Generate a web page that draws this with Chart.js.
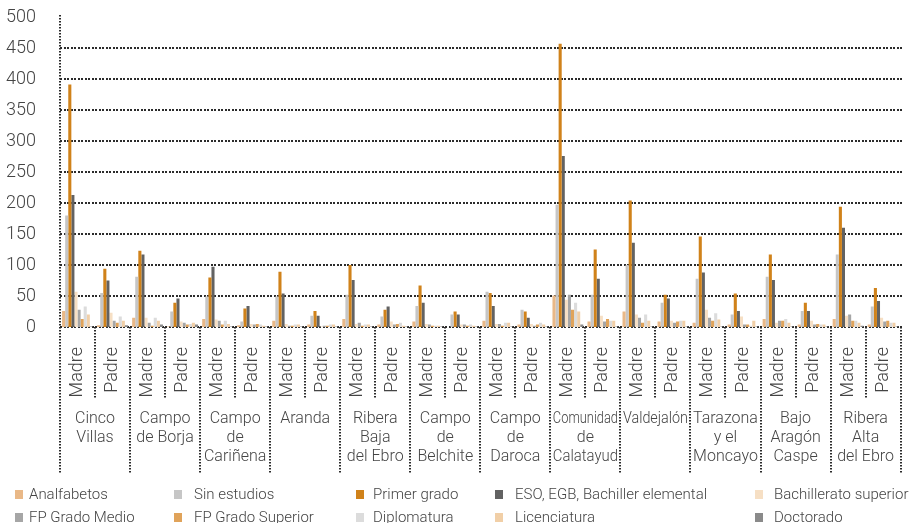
<!DOCTYPE html>
<html>
<head>
<meta charset="utf-8">
<script src="https://cdn.jsdelivr.net/npm/chart.js@4.4.1/dist/chart.umd.min.js"></script>
<style>
  body { margin: 0; background: #fff; }
  #wrap { position: relative; width: 917px; height: 523px; }
</style>
</head>
<body>
<div id="wrap">
  <canvas id="chartRegions"></canvas>
</div>
<script>
// comarcas (each name split in the lines it is printed on)
const regions = [
  ['Cinco', 'Villas'],
  ['Campo', 'de Borja'],
  ['Campo', 'de', 'Cariñena'],
  ['Aranda'],
  ['Ribera', 'Baja', 'del Ebro'],
  ['Campo', 'de', 'Belchite'],
  ['Campo', 'de', 'Daroca'],
  ['Comunidad', 'de', 'Calatayud'],
  ['Valdejalón'],
  ['Tarazona', 'y el', 'Moncayo'],
  ['Bajo', 'Aragón', 'Caspe'],
  ['Ribera', 'Alta', 'del Ebro']
]
const parents = ['Madre', 'Padre']
const yTicks = [0, 50, 100, 150, 200, 250, 300, 350, 400, 450, 500]

const seriesNames = ['Analfabetos', 'Sin estudios', 'Primer grado', 'ESO, EGB, Bachiller elemental',
  'Bachillerato superior', 'FP Grado Medio', 'FP Grado Superior', 'Diplomatura', 'Licenciatura', 'Doctorado']
const seriesColors = ['#e9b887', '#c6c6c6', '#d0821a', '#626262', '#f6dfc4',
  '#a6a6a6', '#e0a35a', '#dcdcdc', '#f1cfa7', '#8a8a8a']

// values: Madre, Padre for each comarca in order
const analfabetos  = [26, 3, 15, 1, 13, 3, 10, 4, 13, 4, 9, 0, 10, 4, 51, 9, 25, 9, 7, 4, 13, 4, 13, 4]
const sinEstudios  = [180, 55, 81, 25, 49, 9, 49, 18, 52, 17, 34, 20, 57, 28, 197, 52, 100, 39, 78, 20, 81, 26, 117, 33]
const primerGrado  = [391, 94, 123, 39, 80, 30, 89, 26, 100, 28, 67, 25, 55, 25, 457, 125, 204, 52, 146, 54, 117, 39, 194, 63]
const eso          = [213, 75, 117, 46, 97, 34, 54, 18, 76, 33, 39, 20, 34, 15, 276, 78, 136, 46, 88, 26, 76, 26, 160, 42]
const bachillerato = [57, 23, 15, 9, 12, 5, 5, 1, 5, 9, 5, 4, 5, 5, 44, 18, 20, 10, 28, 17, 7, 10, 18, 15]
const fpMedio      = [28, 10, 7, 7, 10, 4, 2, 2, 7, 4, 4, 4, 5, 2, 52, 9, 15, 7, 15, 4, 10, 4, 20, 9]
const fpSuperior   = [13, 7, 2, 4, 4, 5, 2, 2, 2, 5, 2, 2, 2, 4, 28, 13, 7, 9, 10, 4, 10, 5, 10, 10]
const diplomatura  = [33, 17, 15, 5, 10, 4, 4, 4, 4, 7, 2, 4, 7, 7, 39, 10, 20, 10, 22, 2, 13, 4, 10, 7]
const licenciatura = [20, 10, 10, 7, 5, 2, 4, 4, 4, 2, 2, 2, 7, 4, 25, 10, 10, 10, 12, 10, 7, 4, 7, 7]
const doctorado    = [1, 3, 4, 4, 1, 1, 1, 1, 1, 1, 1, 1, 1, 1, 4, 1, 1, 1, 1, 1, 1, 1, 2, 1]

const seriesValues = [analfabetos, sinEstudios, primerGrado, eso, bachillerato,
  fpMedio, fpSuperior, diplomatura, licenciatura, doctorado]

const categories = regions.flatMap(() => parents)
const dotColor = '#2b2b2b'
const textColor = '#444'

// pixel row of a y value, taken from the y scale
function rowOf(chart, v) {
  const area = chart.chartArea
  let y = chart.scales.y.getPixelForValue(v)
  if (!isFinite(y)) {
    const lo = yTicks[0], hi = yTicks[yTicks.length - 1]
    y = area.bottom - (v - lo) / (hi - lo) * (area.bottom - area.top)
  }
  return Math.round(y)
}

const decor = {
  id: 'decor',
  // dotted gridlines first, so the bars sit over them
  beforeDraw(chart) {
    const area = chart.chartArea
    const c = chart.ctx
    c.save()
    c.fillStyle = dotColor
    yTicks.forEach(v => {
      if (v === yTicks[yTicks.length - 1]) return
      const y = rowOf(chart, v)
      for (let x = area.left; x < area.right; x += 3.5) {
        c.fillRect(Math.round(x), y - 1, 2, 2)
      }
    })
    c.restore()
  },
  afterDraw(chart) {
    const area = chart.chartArea
    const c = chart.ctx
    const step = (area.right - area.left) / categories.length
    c.save()

    // dotted separators under the axis
    c.strokeStyle = dotColor
    c.lineWidth = 2
    c.setLineDash([1.5, 1.5])
    for (let i = 0; i <= categories.length; i++) {
      const x = Math.round(area.left + i * step)
      const top = i === 0 ? area.top - 2 : area.bottom
      const bottom = i % 2 === 0 ? area.bottom + 146 : area.bottom + 71
      c.beginPath()
      c.moveTo(x, top)
      c.lineTo(x, bottom)
      c.stroke()
    }
    c.setLineDash([])

    // comarca names
    c.fillStyle = textColor
    c.font = '300 16px Roboto'
    c.textAlign = 'center'
    c.textBaseline = 'middle'
    regions.forEach((lines, k) => {
      const cx = area.left + (2 * k + 1) * step
      lines.forEach((line, j) => {
        c.fillText(line, cx, area.bottom + 92 + j * 19, step * 2 - 5)
      })
    })

    // legend in five columns, two rows
    const cols = [15, 174, 356, 495, 755]
    const gaps = [14, 20, 17, 20, 19]
    c.font = '300 15px Roboto'
    c.textAlign = 'left'
    seriesNames.forEach((name, s) => {
      const r = Math.floor(s / 5)
      const col = s % 5
      const cy = 495 + r * 23
      c.fillStyle = seriesColors[s]
      c.fillRect(cols[col], cy - 5, 8, 9)
      c.fillStyle = textColor
      c.fillText(name, cols[col] + gaps[col], cy)
    })
    c.restore()
  }
}

new Chart(document.getElementById('chartRegions'), {
  type: 'bar',
  data: {
    labels: categories,
    datasets: seriesNames.map((name, i) => ({
      label: name,
      data: seriesValues[i],
      backgroundColor: seriesColors[i],
      borderWidth: 0,
      categoryPercentage: 0.88,
      barPercentage: 1
    }))
  },
  options: {
    responsive: true,
    maintainAspectRatio: false,
    animation: false,
    layout: { padding: { top: 17, right: 14, left: 0, bottom: 0 } },
    plugins: {
      legend: { display: false },
      tooltip: { enabled: false }
    },
    scales: {
      x: {
        grid: { display: false },
        border: { display: false },
        ticks: {
          autoSkip: false,
          minRotation: 90,
          maxRotation: 90,
          padding: 12,
          color: textColor,
          font: { family: 'Roboto', weight: '300', size: 18 }
        },
        afterFit(scale) { scale.height = 196 }
      },
      y: {
        min: 0,
        max: 500,
        afterBuildTicks(scale) { scale.ticks = yTicks.map(v => ({ value: v })) },
        grid: { display: false },
        border: { display: false },
        ticks: {
          padding: 16,
          color: textColor,
          font: { family: 'Roboto', weight: '300', size: 18 }
        },
        afterFit(scale) {
          scale.width = 60
          scale.paddingTop = 0
          scale.paddingBottom = 0
        }
      }
    }
  },
  plugins: [decor]
})
</script>
</body>
</html>
